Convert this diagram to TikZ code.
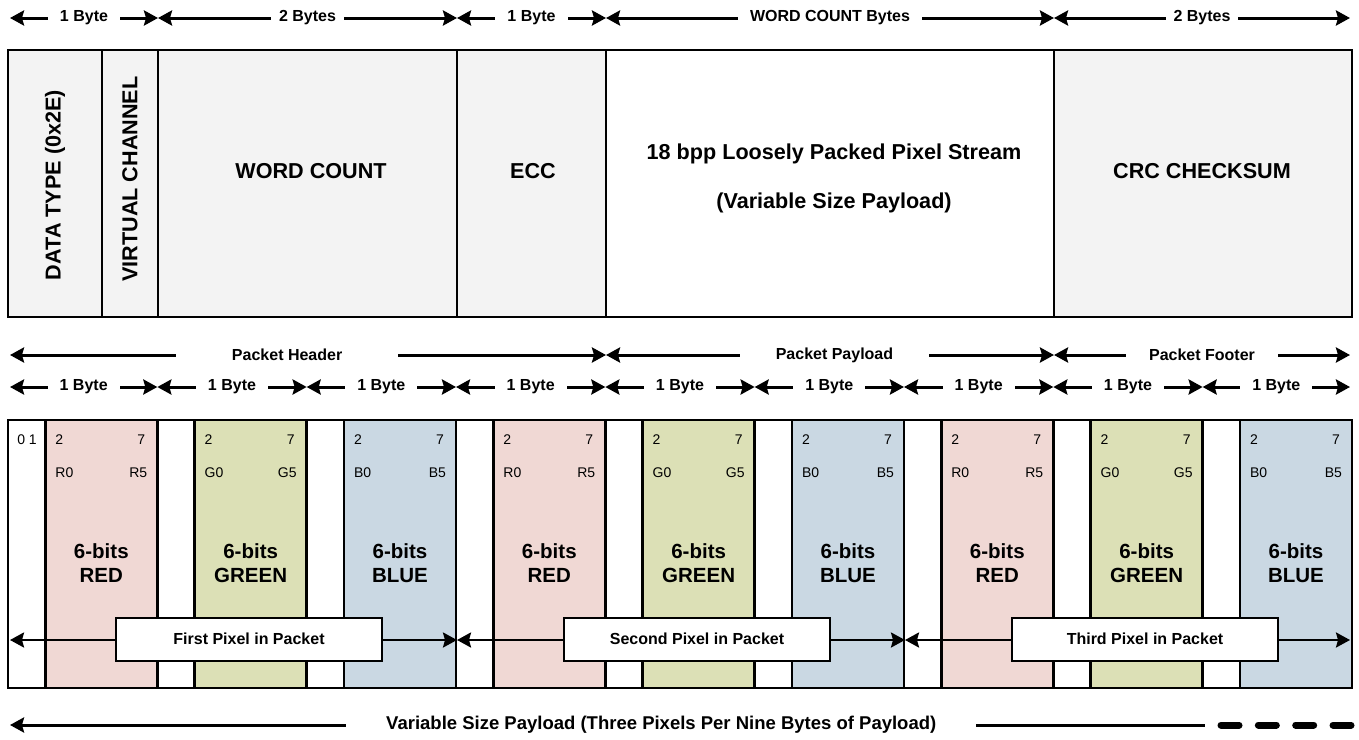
\documentclass[tikz,border=0pt]{standalone}
\usepackage{fontspec}
\setmainfont{Liberation Sans}
\usepackage{tikz}
\usetikzlibrary{arrows.meta}

\definecolor{fieldgray}{RGB}{243,243,243}
\definecolor{redfill}{RGB}{240,216,212}
\definecolor{greenfill}{RGB}{220,224,182}
\definecolor{bluefill}{RGB}{202,216,227}

\begin{document}
\begin{tikzpicture}[
    x=0.5pt, y=-0.5pt,
    >={Stealth[length=7pt,width=7.5pt,inset=1pt]},
    every node/.style={font=\bfseries\fontsize{8}{9.5}\selectfont},
    dim/.style={<->, line width=1.5pt},
    lbl/.style={fill=white, inner ysep=1pt, inner xsep=6pt},
    cell/.style={draw, line width=1.4pt},
    big/.style={font=\bfseries\fontsize{10.8}{13}\selectfont},
    colour/.style={font=\bfseries\fontsize{10.25}{11.8}\selectfont, align=center},
    bitno/.style={font=\fontsize{7}{8}\selectfont},
    pixbox/.style={draw, fill=white, line width=1pt, minimum width=133pt, minimum height=21.5pt}
]
\useasboundingbox (0,0) rectangle (1359,739);

% byte counts above the packet
\coordinate (t0) at (10,18);
\coordinate (t1) at (158,18);
\coordinate (t2) at (457,18);
\coordinate (t3) at (606,18);
\coordinate (t4) at (1054,18);
\coordinate (t5) at (1350,18);
\draw[dim] (t0) -- node[lbl]{1 Byte} (t1);
\draw[dim] (t1) -- node[lbl, inner xsep=4pt]{2 Bytes} (t2);
\draw[dim] (t2) -- node[lbl]{1 Byte} (t3);
\draw[dim] (t3) -- node[lbl]{WORD COUNT Bytes} (t4);
\draw[dim] (t4) -- node[lbl, inner xsep=4pt]{2 Bytes} (t5);

% packet fields
\draw[cell, fill=fieldgray] (8,50) rectangle (102,317);
\draw[cell, fill=fieldgray] (102,50) rectangle (158,317);
\draw[cell, fill=fieldgray] (158,50) rectangle (457,317);
\draw[cell, fill=fieldgray] (457,50) rectangle (606,317);
\draw[cell, fill=white] (606,50) rectangle (1054,317);
\draw[cell, fill=fieldgray] (1054,50) rectangle (1352,317);

\node[big, rotate=90] (dtype) at (55,185) {DATA TYPE (0x2E)};
\node[big, rotate=90] (vchan) at (130,179) {VIRTUAL CHANNEL};
\node[big] (wcount) at (311,171) {WORD COUNT};
\node[big] (ecc) at (533,171) {ECC};
\node[big, align=center, font=\bfseries\fontsize{10.8}{24.5}\selectfont] (stream) at (834,178.5)
    {18 bpp Loosely Packed Pixel Stream\\(Variable Size Payload)};
\node[big] (crc) at (1202,171) {CRC CHECKSUM};

% header / payload / footer
\coordinate (h0) at (10,355);
\coordinate (h1) at (606,355);
\coordinate (h2) at (1054,355);
\coordinate (h3) at (1350,355);
\draw[dim] (h0) -- node[lbl, pos=0.465, inner xsep=28pt]{Packet Header} (h1);
\draw[dim] (h1) -- node[lbl, pos=0.51, inner xsep=18pt]{Packet Payload} (h2);
\draw[dim] (h2) -- node[lbl, inner xsep=11.5pt]{Packet Footer} (h3);

% one arrow per byte
\coordinate (b0) at (10,387);
\foreach \k in {1,...,8}{
    \coordinate (b\k) at ({8+\k*149.33},387);
}
\coordinate (b9) at (1350,387);
\foreach \k [remember=\k as \prev (initially 0)] in {1,...,9}{
    \draw[dim] (b\prev) -- node[lbl]{1 Byte} (b\k);
}

% pixel bytes
\foreach \i in {0,1,2}{
    \foreach \fillc/\cname/\ltr [count=\j from 0] in {redfill/RED/R, greenfill/GREEN/G, bluefill/BLUE/B}{
        \pgfmathsetmacro{\xa}{8+(3*\i+\j)*149.33}
        \pgfmathsetmacro{\xb}{\xa+37.33}
        \pgfmathsetmacro{\xc}{\xa+149.33}
        \draw[cell, fill=white] (\xa,420) rectangle (\xb,688);
        \draw[cell, fill=\fillc] (\xb,420) rectangle (\xc,688);
        \node[bitno, anchor=west] (lo\i\j) at (\xb+3,440) {2};
        \node[bitno, anchor=east] (hi\i\j) at (\xc-5,440) {7};
        \node[bitno, anchor=west] (first\i\j) at (\xb+3,473) {\ltr0};
        \node[bitno, anchor=east] (last\i\j) at (\xc-3,473) {\ltr5};
        \node[colour] (six\i\j) at ({(\xb+\xc)/2},563) {6-bits\\\cname};
    }
}
\node[bitno] (zeroone) at (27,440) {0 1};

% pixel spans
\coordinate (p0) at (10,640);
\coordinate (p1) at (457,640);
\coordinate (p2) at (905,640);
\coordinate (p3) at (1350,640);
\draw[<->, line width=1.2pt] (p0) -- (p1);
\draw[<->, line width=1.2pt] (p1) -- (p2);
\draw[<->, line width=1.2pt] (p2) -- (p3);
\node[pixbox] (pix1) at (249,639) {First Pixel in Packet};
\node[pixbox] (pix2) at (697,639) {Second Pixel in Packet};
\node[pixbox] (pix3) at (1145,639) {Third Pixel in Packet};

% whole payload
\coordinate (v0) at (10,725);
\coordinate (v1) at (1205,725);
\coordinate (v2) at (1221,725);
\coordinate (v3) at (1351,725);
\draw[<-, line width=1.5pt] (v0) -- node[lbl, pos=0.545, inner xsep=20pt, font=\bfseries\fontsize{9.25}{11}\selectfont]
    {Variable Size Payload (Three Pixels Per Nine Bytes of Payload)} (v1);
\draw[line width=3.5pt, line cap=round, dash pattern=on 9pt off 9.67pt] (v2) -- (v3);

\end{tikzpicture}
\end{document}
